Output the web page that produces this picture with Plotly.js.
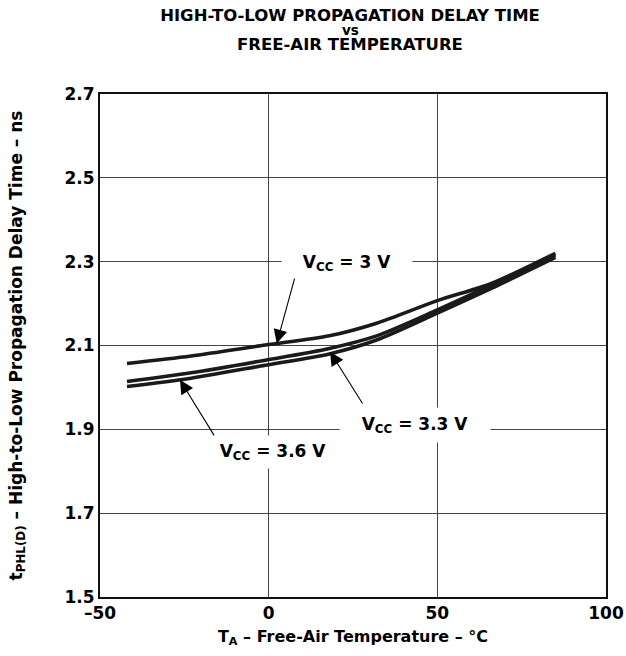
<!DOCTYPE html>
<html>
<head>
<meta charset="utf-8">
<script src="https://cdn.plot.ly/plotly-3.0.1.min.js"></script>
<style>html,body{margin:0;padding:0;background:#fff;}#chart{width:626px;height:656px;}</style>
</head>
<body>
<div id="chart"></div>
<script>
// Data
const temps = [-42, -23, -1, 18, 32, 50, 66, 85];
const delayVcc3 = [2.057, 2.075, 2.101, 2.123, 2.153, 2.207, 2.248, 2.320];
const delayVcc33 = [2.014, 2.035, 2.065, 2.093, 2.123, 2.185, 2.244, 2.316];
const delayVcc36 = [2.002, 2.022, 2.053, 2.080, 2.113, 2.177, 2.236, 2.310];
const xTicks = [-50, 0, 50, 100];
const xTickText = ['\u201350', '0', '50', '100'];
const yTicks = [1.5, 1.7, 1.9, 2.1, 2.3, 2.5, 2.7];
const yTickText = ['1.5', '1.7', '1.9', '2.1', '2.3', '2.5', '2.7'];

const FONT = 'DejaVu Sans, Verdana, sans-serif';
const lineStyle = {color: '#1a1a1a', width: 3.6, shape: 'spline', smoothing: 0.8};

const traces = [
  {x: temps, y: delayVcc3, mode: 'lines', line: lineStyle, name: 'VCC = 3 V'},
  {x: temps, y: delayVcc33, mode: 'lines', line: lineStyle, name: 'VCC = 3.3 V'},
  {x: temps, y: delayVcc36, mode: 'lines', line: lineStyle, name: 'VCC = 3.6 V'}
];

function label(text, x, y, w, h) {
  return {x: x, y: y, xref: 'x', yref: 'y', text: text, showarrow: false,
    bgcolor: '#ffffff', width: w, height: h, align: 'center', valign: 'middle',
    font: {family: FONT, size: 17, color: '#000', weight: 'bold'}};
}
function arrow(hx, hy, tx, ty) {
  return {x: hx, y: hy, xref: 'x', yref: 'y', ax: tx, ay: ty, axref: 'x', ayref: 'y',
    text: '', showarrow: true, arrowhead: 2, arrowsize: 2.5, arrowwidth: 1.1,
    arrowcolor: '#000', standoff: 0, startstandoff: 0};
}
// title line centre given in page pixels (plot top = 94 px, plot height = 503 px)
function titleLine(text, py, size) {
  return {x: (350 - 100) / 506, y: 1 + (94 - py) / 503, xref: 'paper', yref: 'paper',
    xanchor: 'center', yanchor: 'middle',
    text: text, showarrow: false, font: {family: FONT, size: size, color: '#000', weight: 'bold'}};
}

const layout = {
  width: 626, height: 656,
  margin: {l: 100, r: 20, t: 94, b: 59},
  paper_bgcolor: '#fff', plot_bgcolor: '#fff',
  showlegend: false,
  title: {
    text: 'HIGH-TO-LOW PROPAGATION DELAY TIME',
    x: 350 / 626, xanchor: 'center', y: 1 - 15 / 656, yanchor: 'middle',
    font: {family: FONT, size: 16.5, color: '#000', weight: 'bold'}
  },
  xaxis: {
    range: [-50, 100], tickvals: xTicks, ticktext: xTickText,
    showgrid: true, gridcolor: '#444', gridwidth: 1, zeroline: false,
    showline: true, linecolor: '#111', linewidth: 2, mirror: true, ticks: '',
    tickfont: {family: FONT, size: 17, color: '#000', weight: 'bold'},
    title: {text: 'T<sub>A</sub> \u2013 Free-Air Temperature \u2013 \u00b0C', standoff: 8,
      font: {family: FONT, size: 16, color: '#000', weight: 'bold'}}
  },
  yaxis: {
    range: [1.5, 2.7], tickvals: yTicks, ticktext: yTickText,
    showgrid: true, gridcolor: '#444', gridwidth: 1, zeroline: false,
    showline: true, linecolor: '#111', linewidth: 2, mirror: true, ticks: '',
    tickfont: {family: FONT, size: 17, color: '#000', weight: 'bold'},
    title: {text: 't<sub>PHL(D)</sub> \u2013 High-to-Low Propagation Delay Time \u2013 ns', standoff: 38,
      font: {family: FONT, size: 17, color: '#000', weight: 'bold'}}
  },
  annotations: [
    titleLine('vs', 30, 13.5),
    titleLine('FREE-AIR TEMPERATURE', 45, 16.5),
    label('V<sub>CC</sub> = 3 V', 23.2, 2.297, 128, 30),
    label('V<sub>CC</sub> = 3.3 V', 43.4, 1.910, 148, 32),
    label('V<sub>CC</sub> = 3.6 V', 1.3, 1.846, 124, 30),
    arrow(2.4, 2.105, 7.8, 2.263),
    arrow(18.2, 2.085, 28.1, 1.958),
    arrow(-26.3, 2.018, -15.9, 1.882)
  ]
};

Plotly.newPlot('chart', traces, layout, {displayModeBar: false, staticPlot: true});
</script>
</body>
</html>
